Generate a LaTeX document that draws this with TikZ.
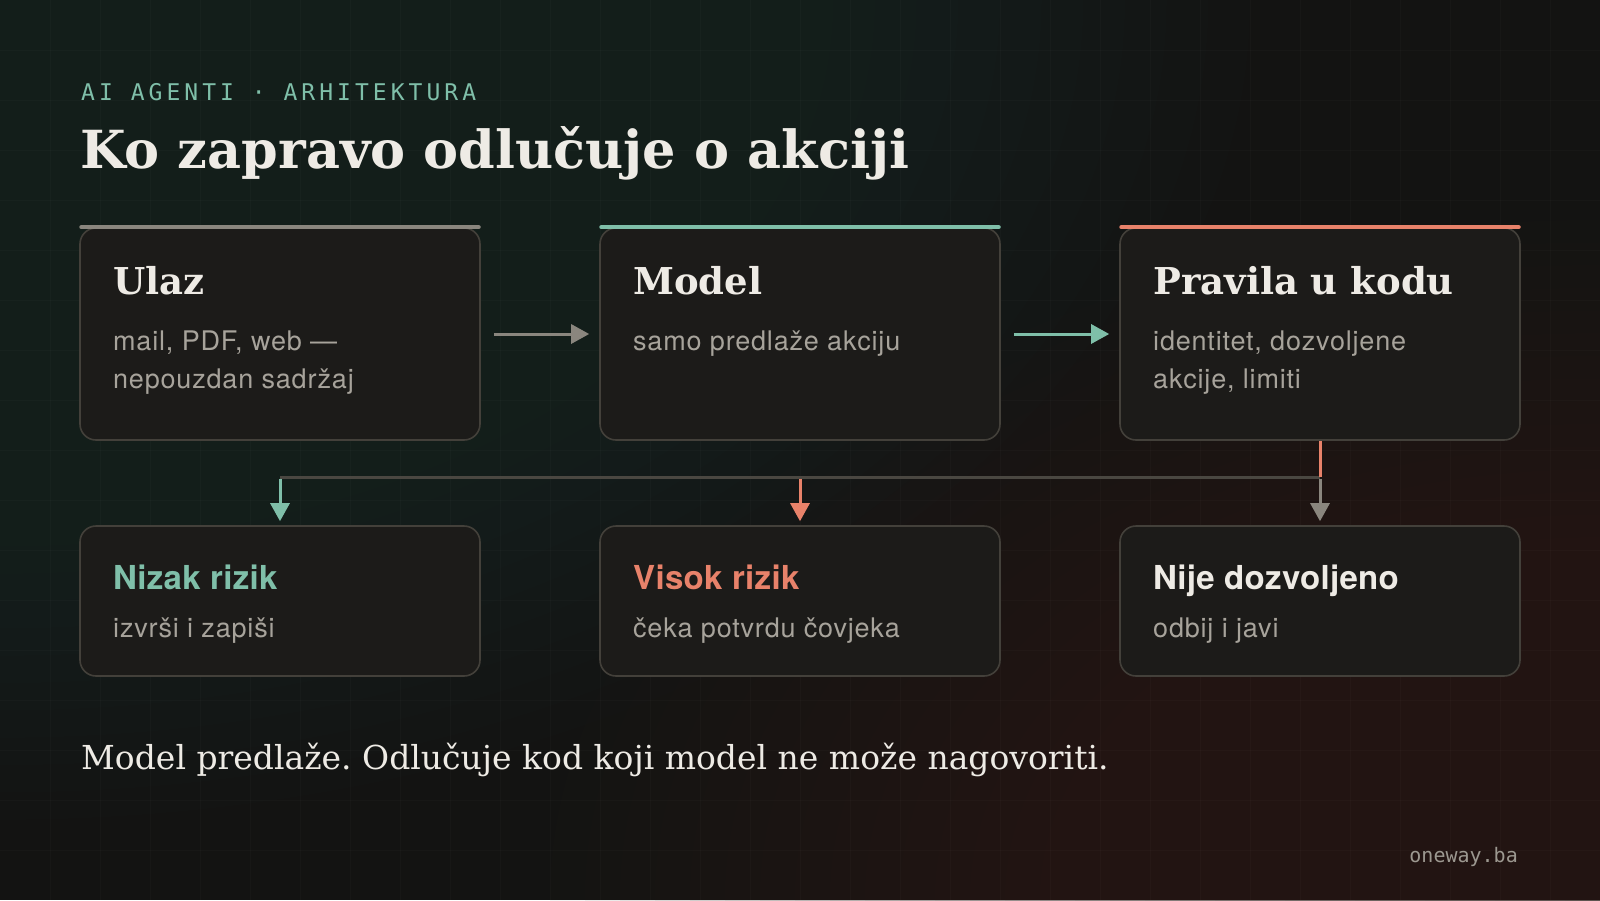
\documentclass[tikz,border=0pt]{standalone}
\usepackage{fontspec}
\setmainfont{DejaVu Serif}
\newfontfamily\sansf[LetterSpace=3]{TeX Gyre Heros}
\newfontfamily\sansbold[LetterSpace=1]{TeX Gyre Heros}
\newfontfamily\monof{DejaVu Sans Mono}
\newfontfamily\monowide[LetterSpace=17.5]{DejaVu Sans Mono}
\frenchspacing
\usetikzlibrary{arrows.meta}
\definecolor{bgbase}{HTML}{131312}
\definecolor{bgtl}{HTML}{25312D}
\definecolor{bgbr}{HTML}{352722}
\definecolor{cardfill}{HTML}{1C1B19}
\definecolor{cardline}{HTML}{43403A}
\definecolor{cteal}{HTML}{7FBFA9}
\definecolor{ccoral}{HTML}{E8826A}
\definecolor{cgray}{HTML}{8A867E}
\definecolor{connline}{HTML}{4A4741}
\definecolor{txtw}{HTML}{EEEBE5}
\definecolor{txtg}{HTML}{A7A39B}
\definecolor{mutedg}{HTML}{9C9890}
\tikzset{
  card/.style={draw=cardline, line width=1.6pt, fill=cardfill, rounded corners=16pt,
    minimum width=400pt, inner sep=0pt},
  topbar/.style={line width=4.5pt, line cap=round},
  ttl/.style={anchor=base west, inner sep=0pt, text=txtw, font=\bfseries\fontsize{37}{44}\selectfont},
  rtitle/.style={anchor=base west, inner sep=0pt, font=\sansbold\bfseries\fontsize{33}{38}\selectfont},
  desc/.style={anchor=base west, inner sep=0pt, text=txtg, font=\sansf\fontsize{27}{32}\selectfont},
  arr/.style={line width=3pt, -{Triangle[length=18pt,width=19pt]}},
  link/.style={line width=3pt},
  gridl/.style={white, opacity=0.02, line width=1pt}
}
\begin{document}
\begin{tikzpicture}[x=1pt, y=-1pt]
\useasboundingbox (0,0) rectangle (1600,900);
% background
\begin{scope}
\clip (0,0) rectangle (1600,900);
\fill[bgbase] (0,0) rectangle (1600,900);
\foreach \k in {1,...,30} {
  \fill[bgtl, opacity=0.05] (0,0) ellipse [x radius={41.67*\k}, y radius={27.33*\k}];
}
\foreach \k in {1,...,30} {
  \fill[bgbr, opacity=0.05] (1600,900) ellipse [x radius={35*\k}, y radius={22.67*\k}];
}
\foreach \gx in {50,100,...,1550} \draw[gridl] (\gx,0) -- (\gx,900);
\foreach \gy in {50,100,...,850} \draw[gridl] (0,\gy) -- (1600,\gy);
\end{scope}

% heading
\node[anchor=base west, inner sep=0pt, text=cteal, font=\monowide\fontsize{23}{28}\selectfont] (kicker) at (81,100) {AI AGENTI · ARHITEKTURA};
\node[anchor=base west, inner sep=0pt, text=txtw, font=\bfseries\fontsize{52.5}{60}\selectfont] (title) at (80,168) {Ko zapravo odlučuje o akciji};

% top cards
\node[card, minimum height=212pt] (b1) at (280,334) {};
\node[card, minimum height=212pt] (b2) at (800,334) {};
\node[card, minimum height=212pt] (b3) at (1320,334) {};
\draw[topbar, cgray] ([xshift=2.3pt]b1.north west) -- ([xshift=-2.3pt]b1.north east);
\draw[topbar, cteal] ([xshift=2.3pt]b2.north west) -- ([xshift=-2.3pt]b2.north east);
\draw[topbar, ccoral] ([xshift=2.3pt]b3.north west) -- ([xshift=-2.3pt]b3.north east);

\node[ttl] (t1) at (113,294) {Ulaz};
\node[desc] (d1a) at (113,350) {mail, PDF, web —};
\node[desc] (d1b) at (113,388) {nepouzdan sadržaj};
\node[ttl] (t2) at (633,294) {Model};
\node[desc] (d2a) at (633,350) {samo predlaže akciju};
\node[ttl] (t3) at (1153,294) {Pravila u kodu};
\node[desc] (d3a) at (1153,350) {identitet, dozvoljene};
\node[desc] (d3b) at (1153,388) {akcije, limiti};

% bottom cards
\node[card, minimum height=150pt] (l1) at (280,601) {};
\node[card, minimum height=150pt] (l2) at (800,601) {};
\node[card, minimum height=150pt] (l3) at (1320,601) {};
\node[rtitle, text=cteal] (r1) at (113,589) {Nizak rizik};
\node[desc] (e1) at (113,637) {izvrši i zapiši};
\node[rtitle, text=ccoral] (r2) at (633,589) {Visok rizik};
\node[desc] (e2) at (633,637) {čeka potvrdu čovjeka};
\node[rtitle, text=txtw] (r3) at (1153,589) {Nije dozvoljeno};
\node[desc] (e3) at (1153,637) {odbij i javi};

% connectors
\draw[arr, cgray, shorten <=13pt, shorten >=10pt] (b1) -- (b2);
\draw[arr, cteal, shorten <=13pt, shorten >=10pt] (b2) -- (b3);
\coordinate (j1) at (280,477);
\coordinate (j2) at (800,477);
\coordinate (j3) at (1320,477);
\draw[link, connline] (j3) -- (j1);
\draw[link, ccoral] (b3.south) -- (j3);
\draw[arr, cteal, shorten >=4pt] ([yshift=-1.5pt]j1) -- (l1.north);
\draw[arr, ccoral, shorten >=4pt] ([yshift=-1.5pt]j2) -- (l2.north);
\draw[arr, cgray, shorten >=4pt] ([yshift=-1.5pt]j3) -- (l3.north);

% footer
\node[anchor=base west, inner sep=0pt, text=txtw, font=\fontsize{33}{40}\selectfont] (foot) at (81,769) {Model predlaže. Odlučuje kod koji model ne može nagovoriti.};
\node[anchor=base east, inner sep=0pt, text=mutedg, font=\monof\fontsize{20}{24}\selectfont] (brand) at (1518,862) {oneway.ba};
\end{tikzpicture}
\end{document}
